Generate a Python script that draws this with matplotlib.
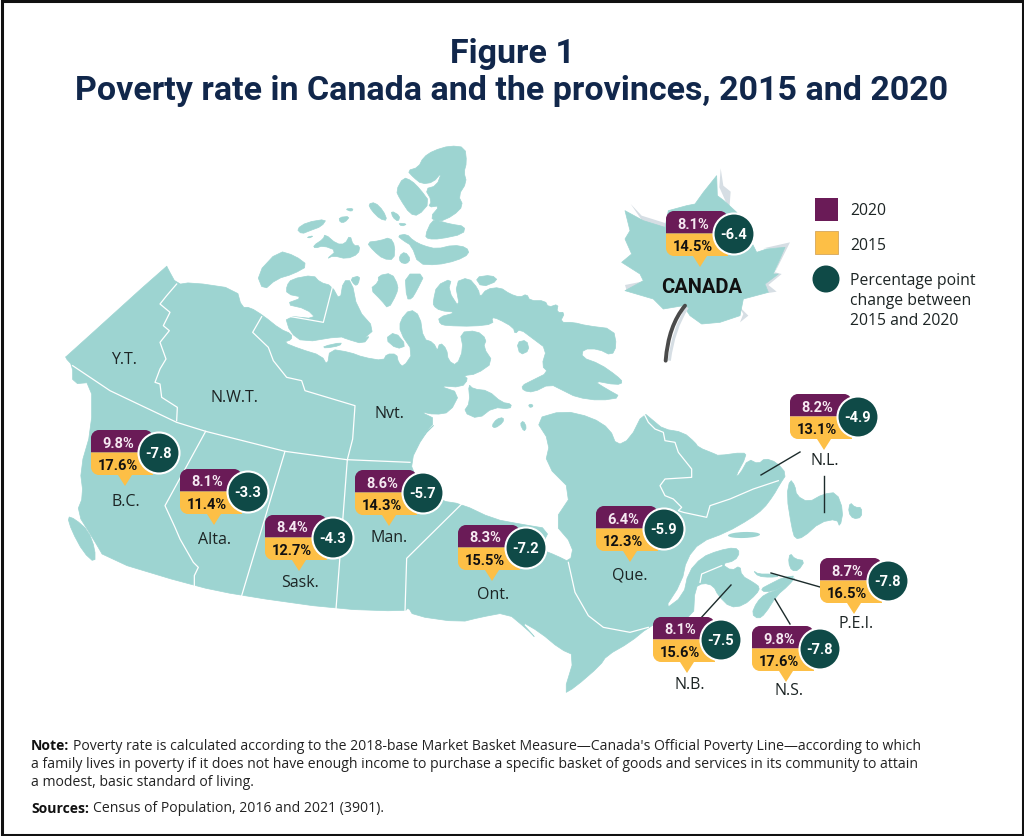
import numpy as np
import matplotlib
matplotlib.use("Agg")
import matplotlib.pyplot as plt
from matplotlib.patches import Polygon, Circle, PathPatch, Rectangle, Ellipse
from matplotlib.path import Path

# ---- data
regions = ["Canada", "B.C.", "Alta.", "Sask.", "Man.", "Ont.", "Que.", "N.L.", "P.E.I.", "N.B.", "N.S."]
rate_2020 = [8.1, 9.8, 8.1, 8.4, 8.6, 8.3, 6.4, 8.2, 8.7, 8.1, 9.8]
rate_2015 = [14.5, 17.6, 11.4, 12.7, 14.3, 15.5, 12.3, 13.1, 16.5, 15.6, 17.6]
change = [-6.4, -7.8, -3.3, -4.3, -5.7, -7.2, -5.9, -4.9, -7.8, -7.5, -7.8]

# ---- where things sit, in pixels of the 1024x837 page
bubble_xy = [(666, 212), (91, 431), (180, 470), (265, 516), (355, 471), (458, 526),
             (596, 507), (790, 395), (820, 559), (653, 618), (752, 627)]
label_xy = [None, (126, 502), (214, 540), (300, 583), (389, 538), (493, 595),
            (630, 575), (825, 461), (856, 624), (690, 685), (789, 691)]
plain_labels = [("Y.T.", 124, 360), ("N.W.T.", 234, 398), ("Nvt.", 389, 414)]
leaders = [((761, 476), (800, 453)), ((824, 477), (824, 513)), ((771, 574), (820, 588)),
           ((731, 586), (700, 620)), ((775, 600), (790, 625))]

TEAL = "#9dd4d1"
PURPLE = "#6a1b57"
YELLOW = "#fdbf46"
GREEN = "#0f4a47"
NAVY = "#11274b"
BODY = ["Open Sans", "DejaVu Sans"]
NARROW = ["Roboto", "DejaVu Sans"]


def crop(ox, oy):
    return lambda pts: [(ox + x / 3, oy + y / 3) for x, y in pts]

z1 = crop(60, 140)
z2 = crop(60, 400)
z3 = crop(520, 380)
z4 = crop(600, 160)
z5 = crop(420, 270)
z6 = crop(290, 140)
z7 = crop(250, 250)
z8 = crop(640, 410)
z9 = crop(650, 540)


# rounds the traced corners a bit
def smooth(pts, n=1):
    pts = np.array(pts, dtype=float)
    for _ in range(n):
        nxt = np.roll(pts, -1, axis=0)
        q = 0.75 * pts + 0.25 * nxt
        r = 0.25 * pts + 0.75 * nxt
        pts = np.empty((len(q) * 2, 2))
        pts[0::2] = q
        pts[1::2] = r
    return pts


mainland = (
    z1([(320, 380), (322, 386), (350, 437), (395, 430), (530, 450), (545, 505)])
    + z7([(0, 175), (40, 200), (90, 240), (125, 255), (125, 272), (100, 280), (150, 300), (215, 320), (232, 350), (240, 300),
          (300, 310), (340, 325), (400, 335), (410, 315), (440, 315), (445, 340), (460, 355), (490, 310), (450, 250), (450, 215),
          (480, 180), (510, 200), (520, 270), (550, 280), (565, 310)])
    + z5([(50, 250), (60, 220), (80, 240), (85, 275), (110, 290), (130, 240), (120, 190), (170, 185),
          (200, 210), (190, 235), (220, 280), (170, 315), (130, 320), (145, 330), (125, 355), (55, 350),
          (120, 372), (90, 430), (45, 437), (0, 428), (50, 452), (0, 510)])
    + z2([(1130, 70), (1090, 110), (1050, 190), (1070, 240), (1140, 305), (1205, 315), (1300, 360), (1380, 375),
          (1470, 390)])
    + z3([(60, 510), (110, 530), (150, 550), (160, 500), (100, 430), (160, 340), (75, 255), (90, 190), (45, 120),
          (130, 95), (215, 115), (270, 150), (290, 200), (330, 180)])
    + z8([(10, 10), (40, 35), (70, 60), (130, 70), (165, 100), (175, 115), (225, 135), (235, 140), (310, 130), (320, 140),
          (285, 205), (300, 195), (325, 150), (355, 165), (375, 148), (410, 160), (440, 195), (420, 225), (400, 260),
          (370, 300), (330, 330)])
    + z3([(620, 460)])
    + z9([(150, 10), (110, 60), (95, 130), (40, 215), (100, 170), (115, 100), (155, 55), (205, 35), (255, 25), (270, 40),
          (255, 65), (215, 75), (245, 95), (270, 80), (275, 110), (310, 130), (330, 145), (320, 165), (280, 200), (240, 205),
          (205, 170), (190, 140), (160, 132), (135, 145), (130, 240), (40, 245)])
    + z3([(385, 745), (330, 790), (260, 830), (240, 860), (165, 925), (130, 945), (165, 830), (120, 810), (60, 760), (0, 725)])
    + z2([(1430, 720), (1400, 690), (1340, 640), (1260, 655), (1200, 670), (1060, 650), (1045, 625), (1035, 637),
          (830, 630), (545, 590), (400, 560), (135, 480), (100, 420), (50, 340), (70, 290), (60, 210), (95, 90)])
    + z1([(95, 730), (38, 735), (38, 680), (15, 655), (22, 650)])
)

islands = [
    z2([(22, 352), (45, 360), (85, 395), (105, 450), (105, 492), (70, 460), (35, 395)]),  # Vancouver Is.
    z5([(40, 95), (50, 50), (95, 28), (85, 65), (120, 120), (105, 40), (145, 25), (175, 60), (180, 85), (200, 60),
        (240, 55), (270, 75), (300, 85), (320, 75), (330, 95), (375, 95), (385, 115), (415, 105), (410, 130), (435, 130),
        (420, 160), (460, 160), (500, 170), (580, 180), (590, 230), (575, 260), (535, 240), (490, 240), (485, 265),
        (540, 285), (590, 320), (610, 340), (590, 348), (520, 335), (560, 360), (605, 385), (540, 395), (470, 385),
        (430, 365), (390, 345), (340, 370), (310, 365), (305, 350), (335, 335), (385, 310), (365, 290), (380, 240),
        (340, 210), (300, 180), (285, 195), (280, 175), (235, 150), (215, 145), (220, 165), (160, 172), (80, 170),
        (60, 165), (55, 145), (110, 130), (60, 125), (40, 110)]),
    z5([(165, 25), (215, 18), (235, 35), (185, 55)]),
    z5([(145, 345), (160, 360), (205, 365), (245, 400), (275, 405), (270, 420), (220, 415), (175, 450), (130, 430), (150, 400)]),
    z5([(215, 470), (230, 450), (250, 445), (250, 460), (225, 478)]),
    z5([(300, 465), (310, 455), (320, 475), (312, 488)]),
    z5([(290, 220), (320, 213), (328, 245), (300, 258)]),
    z5([(325, 408), (335, 405), (340, 412), (330, 416)]),
    # western arctic
    z7([(20, 75), (85, 5), (135, 20), (175, 50), (130, 75), (80, 90), (40, 125)]),
    z7([(110, 110), (125, 90), (190, 78), (210, 100), (245, 110), (270, 155), (280, 95), (305, 95), (322, 180), (375, 240),
        (340, 270), (360, 260), (340, 285), (290, 270), (270, 262), (160, 280), (120, 250), (105, 200), (200, 210),
        (170, 180), (105, 165), (160, 145), (110, 135)]),
    z7([(300, 88), (330, 80), (325, 105), (315, 110)]),
    z7([(220, 292), (275, 280), (270, 290), (225, 298)]),
    z7([(360, 120), (385, 100), (385, 80), (425, 72), (445, 110), (440, 135), (415, 180), (395, 155)]),
    z7([(465, 75), (525, 75), (500, 125), (485, 150), (470, 150)]),
    z7([(405, 270), (435, 248), (470, 290), (440, 300)]),
    # queen elizabeth islands
    z6([(525, 25), (480, 20), (430, 35), (400, 55), (385, 85), (352, 95), (370, 115), (395, 135), (430, 130), (455, 100),
        (440, 140), (405, 150), (425, 185), (415, 205), (450, 200), (420, 235), (445, 250), (490, 230), (520, 200), (505, 170),
        (530, 130), (522, 100), (530, 70)]),
    z6([(340, 115), (318, 155), (330, 180), (360, 225), (385, 230), (420, 190), (390, 150), (365, 125)]),
    z6([(405, 290), (425, 245), (445, 245), (480, 255), (525, 262), (520, 285), (450, 300), (415, 300)]),
    z6([(322, 290), (350, 285), (370, 305), (400, 320), (440, 330), (490, 318), (530, 325), (538, 345), (500, 365),
        (440, 378), (385, 375), (365, 320), (340, 305)]),
    z6([(235, 195), (255, 190), (280, 215), (292, 245), (270, 240), (245, 215)]),
    z6([(303, 215), (330, 230), (325, 248), (308, 235)]),
    z6([(325, 252), (352, 255), (335, 262)]),
    z6([(147, 235), (180, 232), (165, 250), (150, 250)]),
    z6([(165, 210), (190, 208), (185, 218)]),
    z6([(230, 310), (270, 305), (300, 295), (315, 320), (312, 362), (280, 360), (250, 335)]),
    z6([(328, 350), (345, 338), (362, 360), (350, 375), (330, 370)]),
    z6([(70, 320), (100, 300), (105, 285), (140, 315), (165, 315), (180, 288), (190, 320), (210, 320), (205, 345), (170, 360),
        (130, 350), (110, 360), (140, 335), (100, 320), (75, 328)]),
    z6([(20, 270), (50, 250), (110, 240), (95, 262), (60, 275), (35, 285)]),
    z6([(50, 295), (70, 290), (60, 297)]),
    # atlantic
    z3([(810, 300), (825, 320), (830, 350), (865, 370), (910, 345), (950, 340), (970, 395), (960, 445), (950, 420),
        (900, 430), (850, 475), (825, 480), (815, 445), (800, 350)]),
    z3([(985, 400), (990, 370), (1005, 385), (1025, 385), (1025, 415), (1000, 420)]),
    z9([(305, 225), (320, 190), (345, 165), (390, 150), (440, 110), (415, 140), (380, 170), (345, 225), (325, 240)]),
    z9([(332, 150), (360, 135), (400, 115), (440, 110), (390, 150), (345, 160)]),
    z9([(310, 95), (325, 105), (365, 105), (390, 112), (360, 115), (325, 112)]),
    z9([(420, 42), (435, 60), (465, 65), (445, 95), (425, 95), (415, 70)]),
]

borders = [
    z1([(350, 435), (320, 470), (300, 495), (330, 520), (310, 560), (328, 575), (300, 610), (318, 660), (300, 690),
        (285, 730), (300, 735), (305, 775), (352, 805), (350, 845)]),
    z1([(38, 680), (150, 755), (350, 850)]) + z2([(437, 97), (675, 157), (860, 182), (1050, 190)]),
    z2([(437, 97), (315, 320), (345, 385), (360, 420), (400, 490), (415, 505), (403, 530), (403, 560)]),
    z2([(675, 157), (545, 590)]),
    z2([(862, 182), (850, 340), (828, 630)]),
    z2([(1205, 315), (1040, 478), (1035, 637)]),
    z1([(605, 533), (578, 580), (625, 625), (640, 665), (680, 715), (725, 725), (735, 755), (885, 800), (878, 900)])
    + z2([(862, 182)]),
    z7([(247, 115), (220, 220), (175, 212), (105, 200)]),
    z3([(145, 550), (165, 640), (205, 710), (250, 745), (330, 760), (385, 745)]),
    z8([(10, 10), (25, 40), (45, 60), (70, 70), (75, 95), (105, 100), (115, 130), (155, 180), (155, 205), (75, 210),
        (60, 230), (75, 260), (100, 270), (125, 295), (115, 305), (130, 310), (200, 325), (210, 290), (270, 270),
        (340, 240), (415, 215)]),
    z9([(150, 130), (155, 105), (215, 80)]),
]

leaf = z4([(350, 50), (352, 110), (372, 125), (410, 160), (470, 280), (500, 270), (555, 265), (520, 345), (535, 345),
           (495, 375), (505, 400), (430, 420), (420, 470), (360, 490), (305, 495), (270, 470), (250, 440), (190, 450),
           (160, 420), (75, 395), (130, 365), (120, 345), (65, 310), (95, 285), (75, 240), (90, 215), (75, 155),
           (130, 185), (195, 205), (205, 155), (260, 140), (285, 135), (310, 100)])
leaf_shadow = [
    z4([(362, 28), (370, 80), (392, 98), (388, 150), (376, 125), (358, 85)]),
    z4([(92, 135), (125, 170), (195, 192), (195, 207), (130, 190)]),
    z4([(490, 268), (570, 250), (525, 340), (545, 345), (505, 378), (530, 398), (505, 402), (495, 375), (525, 340), (550, 268)]),
    z4([(415, 440), (445, 470), (420, 490), (430, 465)]),
    z4([(75, 378), (125, 368), (80, 395)]),
]

fig = plt.figure(figsize=(10.24, 8.37), dpi=100)
ax = fig.add_axes([0, 0, 1, 1])
ax.set_xlim(0, 1024)
ax.set_ylim(837, 0)
ax.axis("off")

ax.add_patch(Rectangle((1.5, 1.5), 1021, 834, fc="white", ec="#111111", lw=2.2, zorder=0))

ax.text(512, 54, "Figure 1", ha="center", va="center", fontsize=24.5, fontweight="bold",
        family="Roboto", color=NAVY)
ax.text(512, 91, "Poverty rate in Canada and the provinces, 2015 and 2020", ha="center", va="center",
        fontsize=24.5, fontweight="bold", family="Roboto", color=NAVY)

# map
ax.add_patch(Polygon(smooth(mainland), closed=True, fc=TEAL, ec=TEAL, lw=0.5, joinstyle="round", zorder=1))
for isl in islands:
    ax.add_patch(Polygon(smooth(isl), closed=True, fc=TEAL, ec=TEAL, lw=0.5, joinstyle="round", zorder=1))
ax.add_patch(Ellipse((744, 536), 32, 6, angle=-2, fc=TEAL, ec="none", zorder=1))
for line in borders:
    xs, ys = zip(*line)
    ax.plot(xs, ys, color="white", lw=0.9, solid_joinstyle="round", zorder=2)

# leaf
for s in leaf_shadow:
    ax.add_patch(Polygon(s, closed=True, fc="#d6dee4", ec="none", zorder=1))
ax.add_patch(Polygon(leaf, closed=True, fc=TEAL, ec=TEAL, lw=0.5, joinstyle="round", zorder=2))
stem = Path(z4([(255, 440), (205, 500), (197, 605)]), [Path.MOVETO, Path.CURVE3, Path.CURVE3])
stem2 = Path(z4([(262, 445), (220, 510), (208, 605)]), [Path.MOVETO, Path.CURVE3, Path.CURVE3])
ax.add_patch(PathPatch(stem2, fc="none", ec="#d6dee4", lw=2.2, zorder=2))
ax.add_patch(PathPatch(stem, fc="none", ec="#4a4a4a", lw=2.8, capstyle="round", zorder=2))
ax.text(702, 287, "CANADA", ha="center", va="center", fontsize=14.5, fontweight="bold",
        family=NARROW, color="#111111", zorder=5)

for (p0, p1) in leaders:
    ax.plot([p0[0], p1[0]], [p0[1], p1[1]], color="#1c2b2b", lw=1.0, zorder=3)


def draw_bubble(x, y, v20, v15, ch):
    w, h, r = 62, 22.5, 8
    k = 0.55 * r
    top = [(x, y + h), (x, y + r), (x, y + r - k), (x + r - k, y), (x + r, y), (x + w - r, y),
           (x + w - r + k, y), (x + w, y + r - k), (x + w, y + r), (x + w, y + h), (x, y + h)]
    codes = [Path.MOVETO, Path.LINETO, Path.CURVE4, Path.CURVE4, Path.CURVE4, Path.LINETO,
             Path.CURVE4, Path.CURVE4, Path.CURVE4, Path.LINETO, Path.CLOSEPOLY]
    ax.add_patch(PathPatch(Path(top, codes), fc=PURPLE, ec="none", zorder=4))
    tx = x + 34
    bot = [(x, y + h), (x + w, y + h), (x + w, y + 2 * h), (tx + 7, y + 2 * h), (tx, y + 2 * h + 11),
           (tx - 7, y + 2 * h), (x + r, y + 2 * h), (x + r - k, y + 2 * h), (x, y + 2 * h - r + k),
           (x, y + 2 * h - r), (x, y + h)]
    codes = [Path.MOVETO, Path.LINETO, Path.LINETO, Path.LINETO, Path.LINETO, Path.LINETO, Path.LINETO,
             Path.CURVE4, Path.CURVE4, Path.CURVE4, Path.CLOSEPOLY]
    ax.add_patch(PathPatch(Path(bot, codes), fc=YELLOW, ec="none", zorder=4))
    ax.add_patch(Circle((x + 68, y + 23), 20.5, fc=GREEN, ec="white", lw=1.5, zorder=5))
    ax.text(x + 27, y + 12.5, "%.1f%%" % v20, ha="center", va="center", fontsize=10.5, fontweight="bold",
            family=NARROW, color="#f6e9f2", zorder=6)
    ax.text(x + 27, y + 35, "%.1f%%" % v15, ha="center", va="center", fontsize=10.5, fontweight="bold",
            family=NARROW, color="#111111", zorder=6)
    ax.text(x + 68, y + 23, "%.1f" % ch, ha="center", va="center", fontsize=10.5, fontweight="bold",
            family=NARROW, color="white", zorder=6)


for i, name in enumerate(regions):
    draw_bubble(bubble_xy[i][0], bubble_xy[i][1], rate_2020[i], rate_2015[i], change[i])
    if label_xy[i] is not None:
        ax.text(label_xy[i][0], label_xy[i][1], name, ha="center", va="center", fontsize=11.5,
                family=BODY, color="#1c2424", zorder=6)
for txt, x, y in plain_labels:
    ax.text(x, y, txt, ha="center", va="center", fontsize=11.5, family=BODY, color="#1c2424", zorder=6)

# legend
ax.add_patch(Rectangle((815, 199), 23, 23, fc=PURPLE, ec="none", zorder=3))
ax.add_patch(Rectangle((815, 232), 23, 23, fc=YELLOW, ec="#d6a75a", lw=0.6, zorder=3))
ax.add_patch(Circle((826, 280), 13.5, fc=GREEN, ec="none", zorder=3))
ax.text(850, 211, "2020", va="center", fontsize=11.3, family=BODY, color="#1c2424")
ax.text(850, 246, "2015", va="center", fontsize=11.3, family=BODY, color="#1c2424")
for yy, s in zip([281, 301, 321], ["Percentage point", "change between", "2015 and 2020"]):
    ax.text(850, yy, s, va="center", fontsize=11.3, family=BODY, color="#1c2424")

# notes
note_lines = ["Poverty rate is calculated according to the 2018-base Market Basket Measure\u2014Canada's Official Poverty Line\u2014according to which",
              "a family lives in poverty if it does not have enough income to purchase a specific basket of goods and services in its community to attain",
              "a modest, basic standard of living."]
NOTE_SIZE = 10.05
fig.canvas.draw()
rend = fig.canvas.get_renderer()
head = ax.text(31, 746, "Note:", va="center", fontsize=NOTE_SIZE, fontweight="bold", family=BODY, color="#111111")
end = ax.transData.inverted().transform(head.get_window_extent(rend))[1][0]
ax.text(end + 4, 746, note_lines[0], va="center", fontsize=NOTE_SIZE, family=BODY, color="#222222")
ax.text(31, 765, note_lines[1], va="center", fontsize=NOTE_SIZE, family=BODY, color="#222222")
ax.text(31, 783, note_lines[2], va="center", fontsize=NOTE_SIZE, family=BODY, color="#222222")
head = ax.text(31, 809, "Sources:", va="center", fontsize=NOTE_SIZE, fontweight="bold", family=BODY, color="#111111")
end = ax.transData.inverted().transform(head.get_window_extent(rend))[1][0]
ax.text(end + 4, 809, "Census of Population, 2016 and 2021 (3901).", va="center", fontsize=NOTE_SIZE, family=BODY, color="#222222")

fig.savefig("out.png", dpi=100)
